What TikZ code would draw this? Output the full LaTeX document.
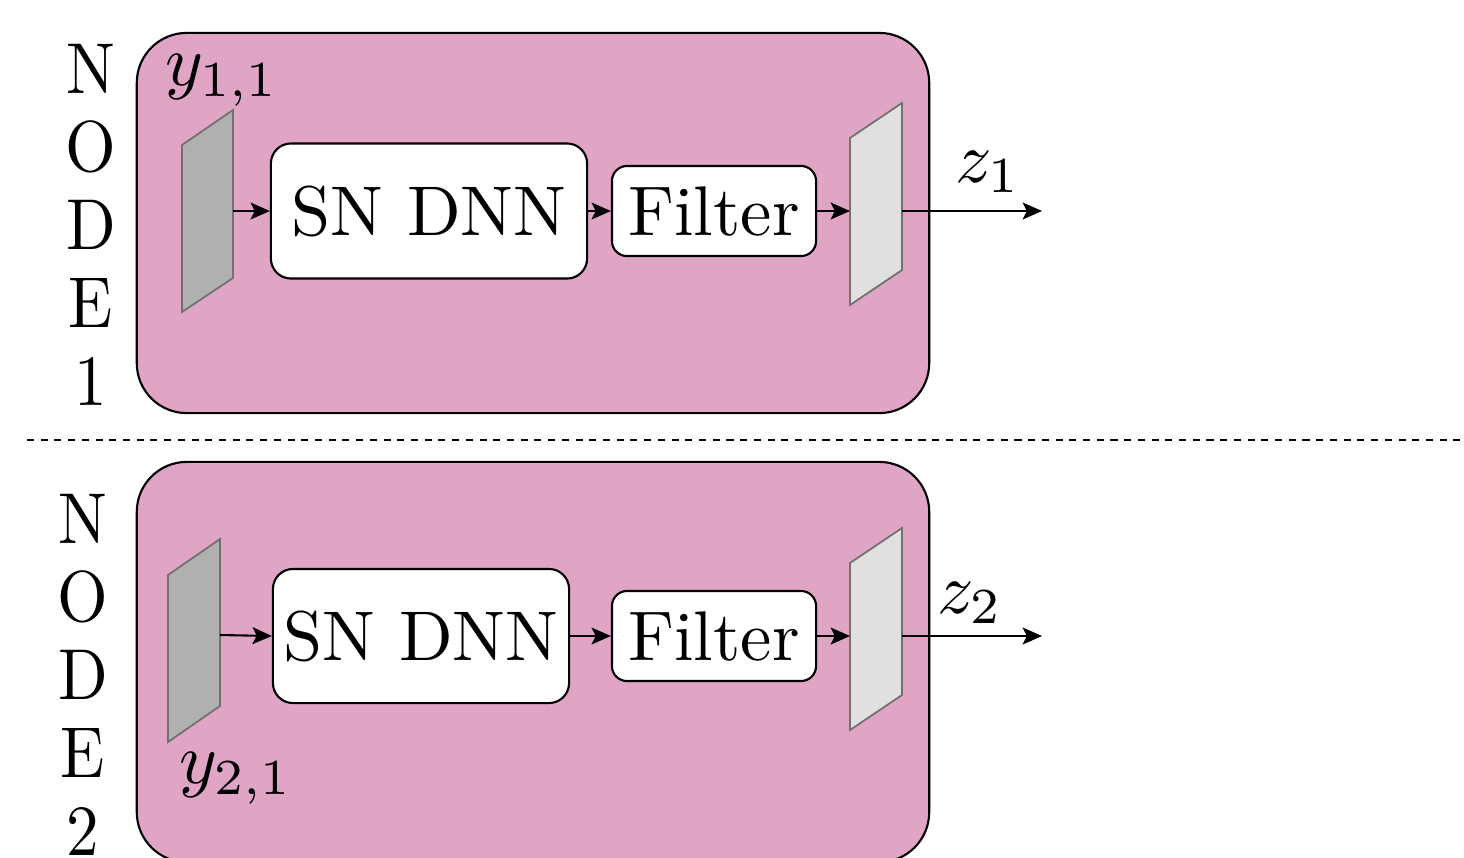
\documentclass[tikz,border=0pt]{standalone}
\usetikzlibrary{arrows.meta}
\definecolor{nodepink}{RGB}{224,164,197}
\definecolor{darkplane}{RGB}{176,176,176}
\definecolor{lightplane}{RGB}{224,224,224}
\definecolor{planeedge}{RGB}{112,112,112}
\begin{document}
\begin{tikzpicture}[x=0.01cm,y=-0.01cm,
  nodebox/.style={draw=black,line width=0.6pt,fill=nodepink,rounded corners=0.5cm,inner sep=0pt},
  blockbox/.style={draw=black,line width=0.6pt,fill=white,rounded corners=0.2cm,inner sep=0pt},
  blocktext/.style={inner sep=0pt,scale=2},
  plane/.style={draw=planeedge,line width=0.5pt},
  flow/.style={-{Stealth[length=5.5pt,width=4.8pt,inset=1.2pt]},line width=0.6pt},
  vlabel/.style={align=center,font=\fontsize{10}{10.8}\selectfont,inner sep=0pt,xscale=1.85,yscale=2.05},
  mlabel/.style={inner sep=0pt,scale=2.05}]
\useasboundingbox (0,0) rectangle (1464,857);

% separator between the two nodes
\draw[line width=0.6pt,dash pattern=on 2pt off 1.9pt] (27,440) -- (1464,440);

% ---------------- node 1 ----------------
\node[nodebox,minimum width=7.92cm,minimum height=3.8cm] (box1) at (533,223) {};
\node[vlabel] (lbl1) at (91,225) {N\\O\\D\\E\\1};

\draw[plane,fill=darkplane] (182,145) -- (233,110) -- (233,278) -- (182,312) -- cycle;
\coordinate (in1) at (233,211);
\node[blockbox,minimum width=3.16cm,minimum height=1.35cm] (dnn1) at (429,211) {};
\node[blocktext] (dnn1t) at (dnn1) {SN DNN};
\node[blockbox,rounded corners=0.15cm,minimum width=2.04cm,minimum height=0.9cm] (filt1) at (714,211) {};
\node[blocktext] (filt1t) at (filt1) {Filter};
\draw[plane,fill=lightplane] (850,138) -- (902,103) -- (902,270) -- (850,305) -- cycle;
\coordinate (pin1) at (850,211);
\coordinate (pout1) at (902,211);
\coordinate (z1end) at (1042,211);

\draw[flow] (in1) -- (dnn1.west);
\draw[flow] (dnn1.east) -- (filt1.west);
\draw[flow] (filt1.east) -- (pin1);
\draw[flow] (pout1) -- (z1end);

\node[mlabel] (y11) at (222,80) {$y_{1,1}$};
\node[mlabel] (z1) at (988,172) {$z_1$};

% ---------------- node 2 ----------------
\node[nodebox,minimum width=7.92cm,minimum height=4.0cm] (box2) at (533,662) {};
\node[vlabel] (lbl2) at (83,675) {N\\O\\D\\E\\2};

\draw[plane,fill=darkplane] (168,575) -- (220,539) -- (220,706) -- (168,742) -- cycle;
\coordinate (in2) at (220,635);
\node[blockbox,minimum width=2.96cm,minimum height=1.34cm] (dnn2) at (421,636) {};
\node[blocktext] (dnn2t) at (dnn2) {SN DNN};
\node[blockbox,rounded corners=0.15cm,minimum width=2.04cm,minimum height=0.9cm] (filt2) at (714,636) {};
\node[blocktext] (filt2t) at (filt2) {Filter};
\draw[plane,fill=lightplane] (850,563) -- (902,528) -- (902,695) -- (850,730) -- cycle;
\coordinate (pin2) at (850,636);
\coordinate (pout2) at (902,636);
\coordinate (z2end) at (1042,636);

\draw[flow] (in2) -- (dnn2.west);
\draw[flow] (dnn2.east) -- (filt2.west);
\draw[flow] (filt2.east) -- (pin2);
\draw[flow] (pout2) -- (z2end);

\node[mlabel] (y21) at (236,778) {$y_{2,1}$};
\node[mlabel] (z2) at (970,603) {$z_2$};
\end{tikzpicture}
\end{document}
